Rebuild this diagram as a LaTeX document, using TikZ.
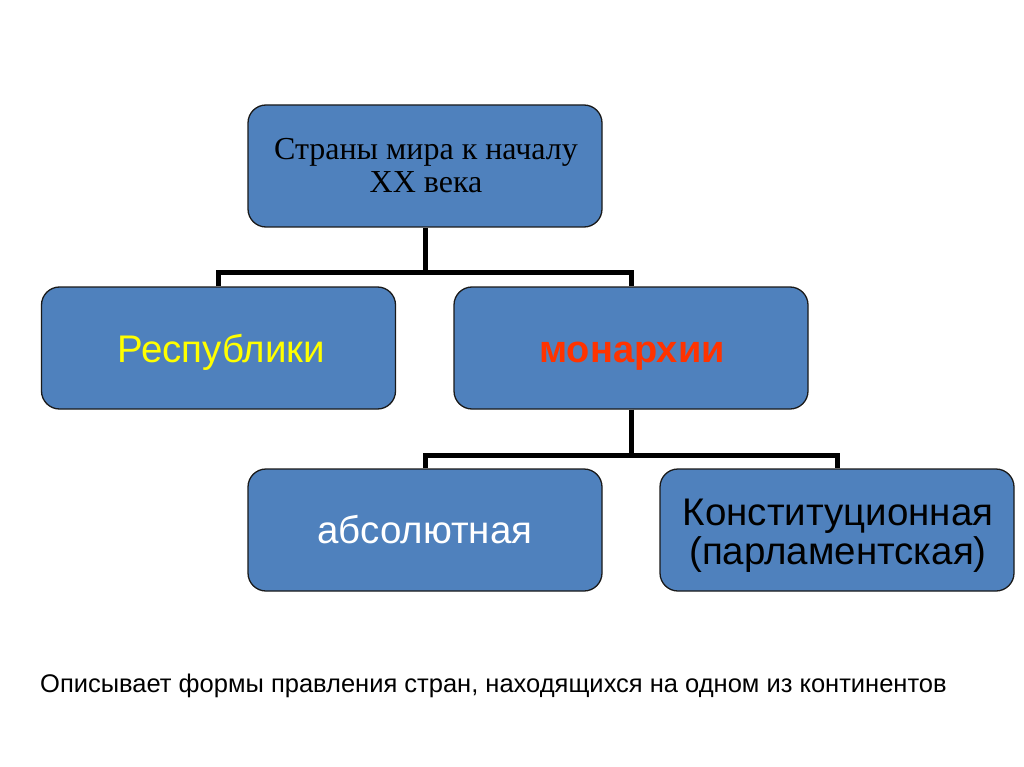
\documentclass[tikz,border=0pt]{standalone}
\usepackage{fontspec}
\setmainfont{Liberation Serif}
\newfontfamily\arial{Liberation Sans}
\definecolor{boxblue}{HTML}{4F81BD}
\definecolor{edgecol}{HTML}{1A1A1A}
\definecolor{yel}{HTML}{FFFF00}
\definecolor{redtxt}{HTML}{FF3300}
\begin{document}
\begin{tikzpicture}[x=1pt,y=-1pt,
  box/.style={draw=edgecol, line width=1.3pt, fill=boxblue, rounded corners=18pt,
    minimum width=354pt, minimum height=122pt, inner sep=0pt},
  lbl/.style={anchor=base, inner sep=0pt},
  serif/.style={font=\fontsize{32}{33}\selectfont},
  sans/.style={font=\arial\fontsize{38.5}{38}\selectfont},
  conn/.style={line width=5pt, draw=black, line join=miter, line cap=butt}]
\useasboundingbox (0,0) rectangle (1024,767);
\fill[white] (0,0) rectangle (1024,767);
\node[box] (top) at (425,166) {};
\node[box] (rep) at (218.5,348) {};
\node[box] (mon) at (631,348) {};
\node[box] (abs) at (425,530) {};
\node[box] (con) at (837,530) {};
\node[lbl, serif] (top1) at (426,160) {Страны мира к началу};
\node[lbl, serif] (top2) at (426,193) {XX века};
\node[lbl, sans, text=yel] (reptxt) at (221,362) {Республики};
\node[lbl, sans, font=\arial\bfseries\fontsize{38}{38}\selectfont, text=redtxt] (montxt) at (632,362) {монархии};
\node[lbl, sans, text=white] (abstxt) at (425,543) {абсолютная};
\node[lbl, sans] (con1) at (838,525) {Конституционная};
\node[lbl, sans] (con2) at (838,564) {(парламентская)};
\coordinate (j1) at (425,272);
\coordinate (j2) at (631,455);
\draw[conn] (top.south) -- (j1);
\draw[conn] (rep.north) |- (j1) -| (mon.north);
\draw[conn] (mon.south) -- (j2);
\draw[conn] (abs.north) |- (j2) -| (con.north);
\node[anchor=base west, inner sep=0pt, font=\arial\fontsize{25.5}{30}\selectfont] (cap) at (40,692) {Описывает формы правления стран, находящихся на одном из континентов};
\end{tikzpicture}
\end{document}
